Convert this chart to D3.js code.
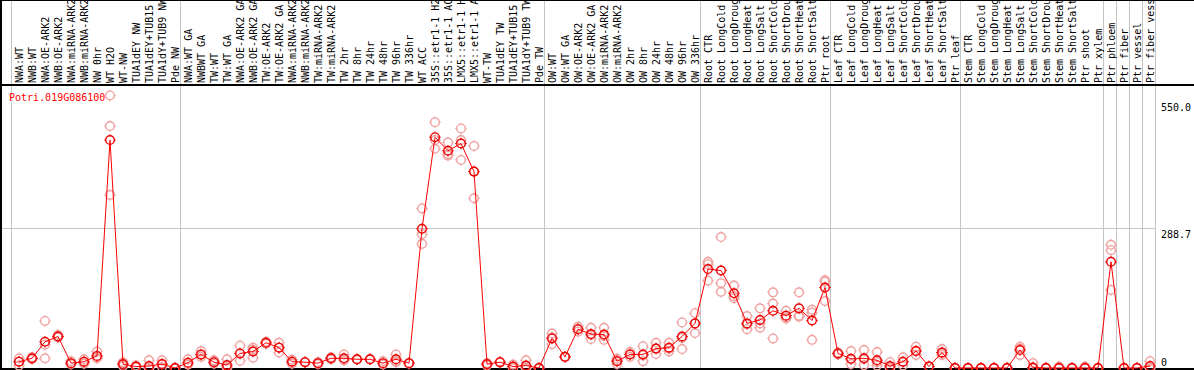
<!DOCTYPE html>
<html>
<head>
<meta charset="utf-8">
<script src="https://cdn.jsdelivr.net/npm/d3@7"></script>
<style>
  body { margin: 0; background: #fff; }
  svg { display: block; }
  text { font-family: "DejaVu Sans Mono", monospace; font-size: 10px; }
</style>
</head>
<body>
<div class="chart"></div>
<script>
let gene = "Potri.019G086100"

let samples = [
  "NWA:WT", "NWB:WT", "NWA:OE-ARK2", "NWB:OE-ARK2", "NWA:miRNA-ARK2", "NWB:miRNA-ARK2",
  "NW 0hr", "WT H2O", "WT-NW", "TUA1dEY NW", "TUA1dEY+TUB15", "TUA1dY+TUB9 NW", "Pde NW",
  "NWA:WT GA", "NWBWT GA", "TW:WT", "TW:WT GA", "NWA:OE-ARK2 GA", "NWB:OE-ARK2 GA",
  "TW:OE-ARK2", "TW:OE-ARK2 GA", "NWA:miRNA-ARK2", "NWB:miRNA-ARK2", "TW:miRNA-ARK2",
  "TW:miRNA-ARK2", "TW 2hr", "TW 8hr", "TW 24hr", "TW 48hr", "TW 96hr", "TW 336hr",
  "WT ACC", "35S::etr1-1 H2O", "35S::etr1-1 ACC", "LMX5::etr1-1 H2O", "LMX5::etr1-1 ACC",
  "WT-TW", "TUA1dEY TW", "TUA1dEY+TUB15", "TUA1dY+TUB9 TW", "Pde TW",
  "OW:WT", "OW:WT GA", "OW:OE-ARK2", "OW:OE-ARK2 GA", "OW:miRNA-ARK2", "OW:miRNA-ARK2",
  "OW 2hr", "OW 8hr", "OW 24hr", "OW 48hr", "OW 96hr", "OW 336hr",
  "Root CTR", "Root LongCold", "Root LongDrought", "Root LongHeat", "Root LongSalt",
  "Root ShortCold", "Root ShortDrought", "Root ShortHeat", "Root ShortSalt", "Ptr root",
  "Leaf CTR", "Leaf LongCold", "Leaf LongDrought", "Leaf LongHeat", "Leaf LongSalt",
  "Leaf ShortCold", "Leaf ShortDrought", "Leaf ShortHeat", "Leaf ShortSalt", "Ptr leaf",
  "Stem CTR", "Stem LongCold", "Stem LongDrought", "Stem LongHeat", "Stem LongSalt",
  "Stem ShortCold", "Stem ShortDrought", "Stem ShortHeat", "Stem ShortSalt", "Ptr shoot",
  "Ptr xylem", "Ptr phloem", "Ptr fiber", "Ptr vessel", "Ptr fiber vessel"
]

let means = [
  13, 20, 54, 65, 10, 13, 25, 470, 8, 3, 4, 8, 0,
  11, 28, 12, 6, 30, 34, 52, 42, 13, 12, 10, 20, 20, 18, 18, 10, 18, 10,
  287, 476, 448, 463, 405, 8, 12, 3, 5, 0,
  61, 23, 80, 70, 69, 14, 28, 28, 40, 42, 65, 92,
  204, 201, 154, 92, 99, 118, 108, 123, 98, 166,
  30, 19, 20, 16, 4, 13, 35, 3, 32, 0,
  0, 0, 0, 0, 37, 1, 0, 0, 0, 0, 0,
  219, 0, 0, 4
]

let replicates = [
  [20, 13, 5], [22, 18, 20], [97, 48, 20], [68, 63, 65], [14, 8, 9], [18, 9, 12],
  [34, 22, 20], [562, 499, 357], [12, 4, 8], [5, 2, 2], [16, 0, 0], [16, 8, 2], [0, 0, 0],
  [18, 8, 7], [35, 27, 23], [16, 12, 9], [18, 2, 0], [46, 30, 15], [42, 38, 21],
  [54, 52, 50], [52, 42, 32], [17, 12, 9], [12, 12, 12], [12, 8, 10], [22, 20, 18],
  [28, 17, 16], [18, 18, 17], [18, 18, 18], [14, 8, 8], [28, 14, 12], [10, 10, 9],
  [329, 276, 256], [507, 470, 452], [465, 441, 438], [494, 470, 429], [458, 405, 350],
  [10, 8, 5], [13, 12, 11], [7, 2, 0], [16, 4, 0, 0], [0, 0, 0],
  [71, 63, 49], [23, 23, 23], [85, 80, 75], [83, 68, 60], [83, 66, 58], [19, 15, 8],
  [33, 28, 23], [45, 26, 14], [52, 40, 29], [52, 40, 34], [94, 62, 39], [113, 92, 72],
  [219, 214, 180], [270, 175, 157], [170, 148, 144], [107, 90, 80], [123, 92, 83],
  [156, 133, 61], [118, 104, 102], [156, 108, 106], [120, 114, 58], [181, 178, 138],
  [32, 30, 28], [35, 18, 8], [37, 18, 6], [33, 12, 5], [12, 1, 0], [22, 12, 5],
  [44, 35, 27], [3, 3, 3], [39, 31, 27], [0, 0, 0],
  [0, 0, 0], [0, 0, 0], [0, 0, 0], [0, 0, 0], [44, 40, 27], [10, 0, 0], [0, 0, 0],
  [3, 0, 0], [0, 0, 0], [3, 0, 0], [0, 0, 0],
  [254, 243, 161], [0, 0, 0], [0, 0, 0], [14, 0, 0]
]

// last sample index of each group, a grey rule is drawn after it
let groupEnds = [0, 13, 41, 53, 63, 73, 84, 85, 86, 87, 88]
let yTicks = [550.0, 288.7, 0]

let width = 1194
let height = 370
let plotLeft = 11
let colW = 13
let labelBase = 83
let yTop = 88
let yBottom = 368
let grid = "#c4c4c4"

let svg = d3.select(".chart")
  .append("svg")
  .attr("width", width)
  .attr("height", height)

let x = d3.scaleBand()
  .domain(d3.range(samples.length))
  .range([plotLeft, plotLeft + colW * samples.length])

let y = d3.scaleLinear()
  .domain([0, 288.7 * 2])
  .range([yBottom, yTop])

let px = i => x(i) + 8

// grey rules
svg.append("line")
  .attr("x1", 0).attr("x2", x.range()[1])
  .attr("y1", Math.round(y(288.7)) + 0.5).attr("y2", Math.round(y(288.7)) + 0.5)
  .attr("stroke", grid)

svg.selectAll(".vrule")
  .data(groupEnds)
  .enter()
  .append("line")
  .attr("class", "vrule")
  .attr("x1", d => plotLeft + d * colW + 0.5)
  .attr("x2", d => plotLeft + d * colW + 0.5)
  .attr("y1", 0).attr("y2", height)
  .attr("stroke", grid)

// frame
svg.append("line").attr("x1", 0).attr("x2", width).attr("y1", 0.5).attr("y2", 0.5)
  .attr("stroke", "#000").attr("stroke-width", 1)
svg.append("line").attr("x1", 0).attr("x2", width).attr("y1", 85).attr("y2", 85)
  .attr("stroke", "#000").attr("stroke-width", 2)
svg.append("line").attr("x1", 0).attr("x2", width).attr("y1", 369).attr("y2", 369)
  .attr("stroke", "#000").attr("stroke-width", 2)
svg.append("line").attr("x1", 1).attr("x2", 1).attr("y1", 0).attr("y2", height)
  .attr("stroke", "#000").attr("stroke-width", 2)

// sample labels
svg.selectAll(".slabel")
  .data(samples)
  .enter()
  .append("text")
  .attr("class", "slabel")
  .attr("transform", (d, i) => `translate(${px(i) + 3.5},${labelBase}) rotate(-90)`)
  .attr("fill", "#000")
  .text(d => d)

// y tick labels
svg.selectAll(".ytick")
  .data(yTicks)
  .enter()
  .append("text")
  .attr("class", "ytick")
  .attr("x", 1161)
  .attr("y", d => Math.min(y(d) + 10, 366))
  .attr("fill", "#000")
  .text(d => d === 0 ? "0" : d.toFixed(1))

// gene name
svg.append("text")
  .attr("x", 9)
  .attr("y", 101)
  .attr("fill", "#ff0000")
  .text(gene)

let marker = (g, color, fill) => {
  g.append("circle")
    .attr("r", 4.3)
    .attr("fill", fill)
    .attr("stroke", color)
    .attr("stroke-width", 1.4)
  g.append("path")
    .attr("d", "M0,-5.8V-4.5M0,4.5V5.8M-5.8,0H-4.5M4.5,0H5.8")
    .attr("stroke", color)
    .attr("stroke-width", 1)
}

// replicates
let reps = []
replicates.forEach((r, i) => r.forEach(v => reps.push({ i: i, v: v })))

svg.selectAll(".rep")
  .data(reps)
  .enter()
  .append("g")
  .attr("class", "rep")
  .attr("transform", d => `translate(${px(d.i)},${y(d.v)})`)
  .each(function () { marker(d3.select(this), "#f0a0a0", "none") })

// mean line
svg.append("path")
  .datum(means)
  .attr("fill", "none")
  .attr("stroke", "#ff0000")
  .attr("stroke-width", 1)
  .attr("d", d3.line().x((d, i) => px(i)).y(d => y(d)))

svg.selectAll(".mean")
  .data(means)
  .enter()
  .append("g")
  .attr("class", "mean")
  .attr("transform", (d, i) => `translate(${px(i)},${y(d)})`)
  .each(function () { marker(d3.select(this), "#ee0000", "none") })
</script>
</body>
</html>
